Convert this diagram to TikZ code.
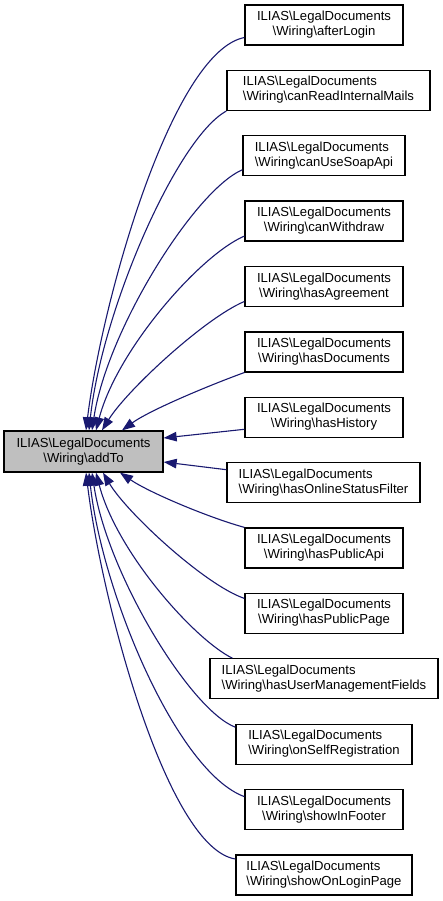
\documentclass[tikz,border=0pt]{standalone}
\usepackage{fontspec}
\setmainfont{Liberation Sans}
\usetikzlibrary{arrows.meta,calc}
\definecolor{edgecol}{HTML}{191970}
\definecolor{fillgray}{HTML}{BFBFBF}
\newcommand\dlab[1]{\begin{tabular}{@{}c@{}}\multicolumn{1}{@{}l@{}}{ILIAS\textbackslash LegalDocuments}\\\textbackslash Wiring\textbackslash #1\end{tabular}}
\tikzset{
  box/.style={draw=black, line width=1.3pt, rectangle, inner sep=0pt, minimum height=40pt,
    font=\fontsize{13.1}{15}\selectfont, fill=white},
  edge/.style={draw=edgecol, line width=1.1pt, -{Triangle[length=13pt,width=9.5pt]}}
}
\begin{document}
\begin{tikzpicture}[x=1pt,y=-1pt]
\useasboundingbox (0,0) rectangle (443,901);
\node[box, fill=fillgray, minimum width=159pt, minimum height=41pt] (addto) at (83.5,451.5) {\dlab{addTo}};
\node[box, minimum width=158pt] (n0) at (324,25.0) {\dlab{afterLogin}};
\node[box, minimum width=203pt] (n1) at (328.5,90.4) {\dlab{canReadInternalMails}};
\node[box, minimum width=162pt] (n2) at (324,155.8) {\dlab{canUseSoapApi}};
\node[box, minimum width=158pt] (n3) at (324,221.1) {\dlab{canWithdraw}};
\node[box, minimum width=158pt] (n4) at (324,286.5) {\dlab{hasAgreement}};
\node[box, minimum width=158pt] (n5) at (324,351.9) {\dlab{hasDocuments}};
\node[box, minimum width=158pt] (n6) at (324,417.3) {\dlab{hasHistory}};
\node[box, minimum width=193pt] (n7) at (323.5,482.7) {\dlab{hasOnlineStatusFilter}};
\node[box, minimum width=158pt] (n8) at (324,548.0) {\dlab{hasPublicApi}};
\node[box, minimum width=158pt] (n9) at (324,613.4) {\dlab{hasPublicPage}};
\node[box, minimum width=228pt] (n10) at (324,678.8) {\dlab{hasUserManagementFields}};
\node[box, minimum width=176pt] (n11) at (324,744.2) {\dlab{onSelfRegistration}};
\node[box, minimum width=158pt] (n12) at (324,809.6) {\dlab{showInFooter}};
\node[box, minimum width=176pt] (n13) at (324,875.0) {\dlab{showOnLoginPage}};

\draw[edge] ($(n0.west)+(0,12.5)$) .. controls (172,52) and (102,300) .. ($(addto.north)+(2.5,0)$);
\draw[edge] (n1.south west) .. controls (177,138) and (102,310) .. ($(addto.north)+(5.5,0)$);
\draw[edge] ($(n2.west)+(0,14)$) .. controls (195,190) and (107,330) .. ($(addto.north)+(8.5,0)$);
\draw[edge] ($(n3.west)+(0,15)$) .. controls (200,255) and (117,350) .. ($(addto.north)+(12.5,0)$);
\draw[edge] ($(n4.west)+(0,15)$) .. controls (205,318) and (127,390) .. ($(addto.north)+(18.5,0)$);
\draw[edge] (n5.south west) .. controls (210,385) and (150,410) .. ($(addto.north)+(38.5,0)$);
\draw[edge] ($(n6.west)+(0,12)$) -- ($(addto.east)+(0,-13.5)$);
\draw[edge] ($(n7.west)+(0,-13)$) -- ($(addto.east)+(0,10.5)$);
\draw[edge] (n8.north west) .. controls (210,518) and (150,493) .. ($(addto.south)+(36.5,0)$);
\draw[edge] ($(n9.west)+(0,-15)$) .. controls (205,585) and (127,513) .. ($(addto.south)+(19.5,0)$);
\draw[edge] ($(n10.north west)+(23,0)$) .. controls (195,640) and (117,553) .. ($(addto.south)+(12.5,0)$);
\draw[edge] ($(n11.west)+(0,-17)$) .. controls (190,710) and (107,573) .. ($(addto.south)+(8.5,0)$);
\draw[edge] ($(n12.west)+(0,-13)$) .. controls (177,772) and (102,593) .. ($(addto.south)+(5.5,0)$);
\draw[edge] ($(n13.west)+(0,-16)$) .. controls (167,848) and (102,603) .. ($(addto.south)+(2.5,0)$);
\end{tikzpicture}
\end{document}
